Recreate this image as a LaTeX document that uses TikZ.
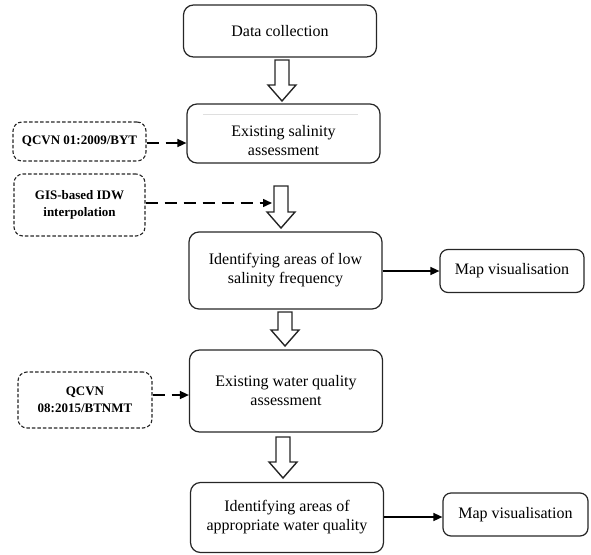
\documentclass[tikz,border=0pt]{standalone}
\usepackage{fontspec}
\setmainfont{Liberation Serif}
\usetikzlibrary{arrows.meta,calc}
\newcommand\harrow[3]{\draw[hollow] (#1-7,#2) -- (#1+7,#2) -- (#1+7,#3-16) -- (#1+14,#3-16) -- (#1,#3) -- (#1-14,#3-16) -- (#1-7,#3-16) -- cycle;}
\begin{document}
\begin{tikzpicture}[x=1pt,y=-1pt,
 mainbox/.style={draw=black!85, line width=1.2pt, rounded corners=10pt, align=center, font=\fontsize{16}{19}\selectfont, inner sep=0pt},
 txt/.style={align=center, font=\fontsize{16}{19}\selectfont, inner sep=0pt},
 refbox/.style={draw=black!85, dash pattern=on 3.5pt off 2pt, line width=1.1pt, rounded corners=9pt, align=center, font=\bfseries\fontsize{13}{17}\selectfont, inner sep=0pt},
 mapbox/.style={mainbox, rounded corners=8pt},
 solidarrow/.style={-{Triangle[length=9pt,width=8pt]}, line width=1.5pt},
 dasharrow/.style={solidarrow, dash pattern=on 12pt off 7pt},
 hollow/.style={draw=black!85, line width=1.4pt, fill=white}]
\useasboundingbox (0,0) rectangle (591,554);

% main boxes
\node[mainbox, minimum width=193pt, minimum height=52pt] (b1) at (280,31) {Data collection};
\node[mainbox, minimum width=193pt, minimum height=59pt] (b2) at (283.5,133.5) {};
\draw[gray!25, line width=0.6pt] (203,114) -- (358,114);
\node[txt] (b2t) at (283.5,141) {Existing salinity\\assessment};
\node[mainbox, minimum width=193pt, minimum height=77pt] (b3) at (285.5,270.5) {Identifying areas of low\\salinity frequency};
\node[mainbox, minimum width=193pt, minimum height=82pt] (b4) at (286,391) {Existing water quality\\assessment};
\node[mainbox, minimum width=193pt, minimum height=70pt] (b5) at (287,517.5) {Identifying areas of\\appropriate water quality};

% map boxes
\node[mapbox, minimum width=144pt, minimum height=43pt] (m1) at (512,271) {Map visualisation};
\node[mapbox, minimum width=145pt, minimum height=43pt] (m2) at (515.5,514.5) {Map visualisation};

% reference boxes
\node[refbox, minimum width=133pt, minimum height=39pt] (r1) at (79.5,141.5) {QCVN 01:2009/BYT};
\node[refbox, minimum width=131pt, minimum height=62pt] (r2) at (79.5,205) {GIS-based IDW\\interpolation};
\node[refbox, minimum width=134pt, minimum height=56pt] (r3) at (85,400) {QCVN\\08:2015/BTNMT};

% hollow arrows
\harrow{282}{60}{101}
\harrow{281}{186}{228}
\harrow{285}{312}{346}
\harrow{283}{437}{478}

% connectors
\coordinate (g2) at (272,203);
\draw[dasharrow] (r1.east |- 0,143) -- (b2.west |- 0,143);
\draw[dasharrow] (r2.east |- g2) -- (g2);
\draw[dasharrow] (r3.east |- 0,395) -- (b4.west |- 0,395);
\draw[solidarrow] (b3.east |- m1) -- (m1.west);
\draw[solidarrow] (b5.east |- 0,517) -- (m2.west |- 0,517);
\end{tikzpicture}
\end{document}
